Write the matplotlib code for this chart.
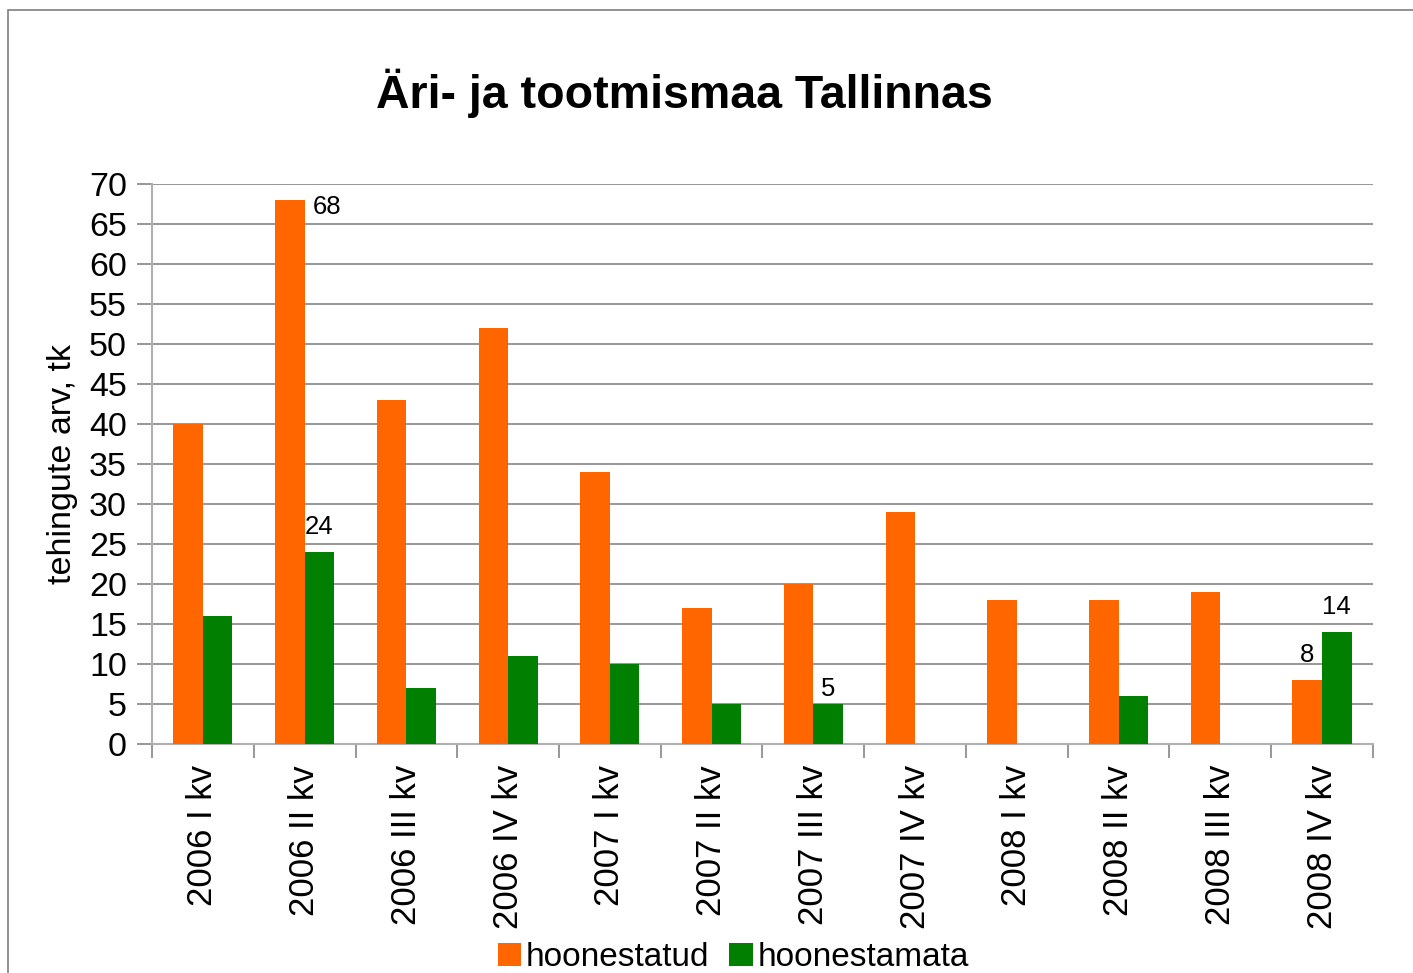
import matplotlib.pyplot as plt
import matplotlib.patches as patches
import numpy as np

plt.rcParams['font.family'] = ['Liberation Sans', 'DejaVu Sans']

# data
quarters = ['2006 I kv', '2006 II kv', '2006 III kv', '2006 IV kv',
            '2007 I kv', '2007 II kv', '2007 III kv', '2007 IV kv',
            '2008 I kv', '2008 II kv', '2008 III kv', '2008 IV kv']
hoonestatud = [40, 68, 43, 52, 34, 17, 20, 29, 18, 18, 19, 8]
hoonestamata = [16, 24, 7, 11, 10, 5, 5, 0, 0, 6, 0, 14]
yticks = list(range(0, 75, 5))

orange = '#FF6600'
green = '#007F00'
gray = '#868686'

fig = plt.figure(figsize=(14.13, 9.73), dpi=100)
ax = fig.add_axes([0.1076, 0.2353, 0.864, 0.5756])

x = np.arange(len(quarters))
w = 0.29
b1 = ax.bar(x - w/2, hoonestatud, w, color=orange, label='hoonestatud', zorder=3)
b2 = ax.bar(x + w/2, hoonestamata, w, color=green, label='hoonestamata', zorder=3)

ax.set_xlim(-0.5, len(quarters) - 0.5)
ax.set_ylim(0, 70)
ax.set_yticks(yticks)
ax.set_yticklabels([str(v) for v in yticks], fontsize=24.5)
ax.yaxis.grid(True, color=gray, linewidth=1.2, zorder=0)
ax.tick_params(axis='y', length=11, color=gray, width=1.2, pad=7)

ax.set_xticks(x)
ax.set_xticklabels(quarters, rotation=90, fontsize=25)
ax.set_xticks(np.arange(-0.5, len(quarters)), minor=True)
ax.tick_params(axis='x', which='major', length=0, pad=15)
ax.tick_params(axis='x', which='minor', length=10, color=gray, width=1.2)

for s in ['top', 'right']:
    ax.spines[s].set_visible(False)
for s in ['left', 'bottom']:
    ax.spines[s].set_color('#B0B0B0')
    ax.spines[s].set_linewidth(1.5)

ax.set_ylabel('tehingute arv, tk', fontsize=24.5, labelpad=8)

# data labels
lbl = dict(fontsize=18.5, ha='center', va='center', textcoords='offset points')
ax.annotate('68', xy=(1 - w/2, hoonestatud[1]), xytext=(27, -5), **lbl)
ax.annotate('24', xy=(1 + w/2, hoonestamata[1]), xytext=(0, 18), **lbl)
ax.annotate('5', xy=(6 + w/2, hoonestamata[6]), xytext=(0, 11), **lbl)
ax.annotate('8', xy=(11 - w/2, hoonestatud[11]), xytext=(0, 18), **lbl)
ax.annotate('14', xy=(11 + w/2, hoonestamata[11]), xytext=(0, 18), **lbl)

fig.text(0.484, 0.904, 'Äri- ja tootmismaa Tallinnas', fontsize=33.5,
         fontweight='bold', ha='center', va='center')

fig.legend(handles=[b1, b2], loc='center', bbox_to_anchor=(0.519, 0.016),
           ncol=2, frameon=False, fontsize=24, handlelength=0.7,
           handleheight=0.7, handletextpad=0.15, columnspacing=0.6,
           borderaxespad=0)

frame = patches.Rectangle((8/1413, -0.05), 1.1, 0.05 + 1 - 10/973,
                          transform=fig.transFigure, fill=False,
                          edgecolor='#7F7F7F', linewidth=1.2)
fig.patches.append(frame)

fig.savefig('out.png', dpi=100)
